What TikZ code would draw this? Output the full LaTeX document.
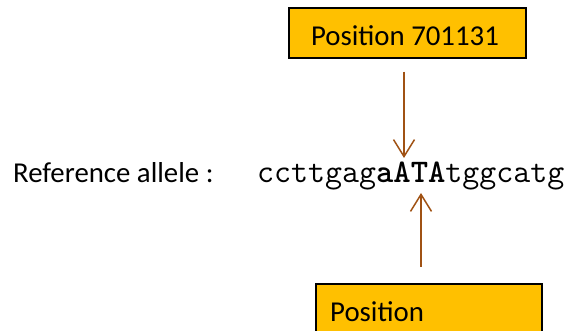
\documentclass[tikz,border=0pt]{standalone}
\usepackage{fontspec}
\setmainfont{Carlito}
\usetikzlibrary{arrows.meta}
\definecolor{boxfill}{RGB}{255,192,0}
\definecolor{arrbrown}{RGB}{160,82,20}
\begin{document}
\begin{tikzpicture}[x=1pt,y=1pt,
  posbox/.style={draw=black,line width=1.6pt,fill=boxfill,inner sep=0pt,anchor=north west},
  arr/.style={draw=arrbrown,line width=1.5pt,-{Straight Barb[length=17pt,width=21pt,line width=1.5pt]}},
  lbl/.style={inner sep=0pt,font=\fontsize{28.8}{32}\selectfont}]
\useasboundingbox (0,0) rectangle (573,331);
\clip (0,0) rectangle (573,331);
% top box
\node[posbox,minimum width=237pt,minimum height=50pt] (top) at (288,324) {};
\node[lbl,anchor=base] (toptext) at (405,285) {Position 701131};
% bottom box
\node[posbox,minimum width=226pt,minimum height=60pt] (bot) at (315,48) {};
\node[lbl,anchor=base west] (bottext) at (330,9) {Position};
% labels
\node[lbl,anchor=base west] (ref) at (13,148) {Reference allele :};
\node[inner sep=0pt,anchor=base west,font=\ttfamily\fontsize{33}{36}\selectfont] (seq) at (257,148) {ccttgag\textbf{aATA}tggcatg};
% arrows
\coordinate (tipA) at (404,173);
\coordinate (tipB) at (421,138);
\draw[arr] (top.south -| tipA) ++(0,-13) -- (tipA);
\draw[arr] (bot.north -| tipB) ++(0,16) -- (tipB);
\end{tikzpicture}
\end{document}
